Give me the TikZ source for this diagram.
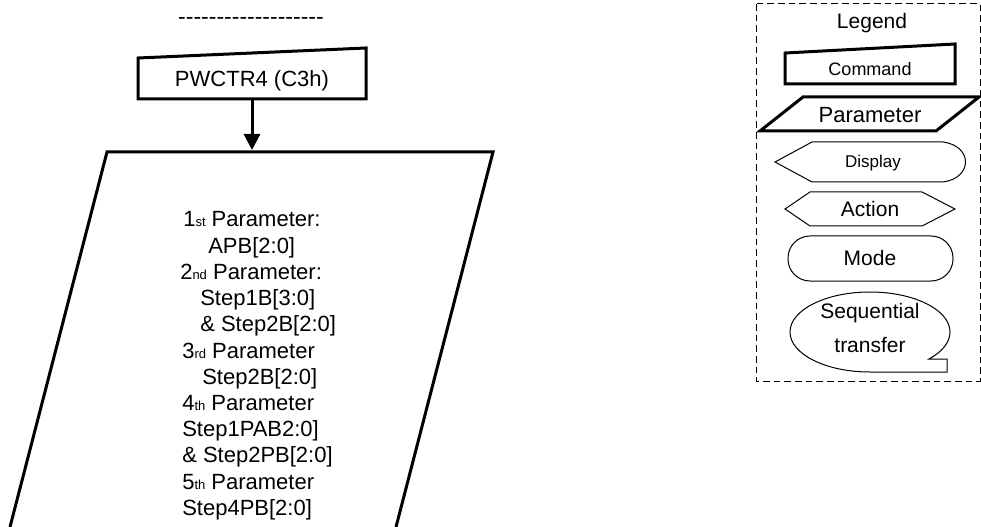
\documentclass[tikz,border=0pt]{standalone}
\usepackage{fontspec}
\setmainfont{Liberation Sans}
\usetikzlibrary{arrows.meta}
\newcommand{\pxsize}[1]{\fontsize{#1}{#1}\selectfont}
\newcommand{\ordsfx}[1]{{\fontsize{9.75pt}{9.75pt}\selectfont #1}}
\begin{document}
\begin{tikzpicture}[x=0.75pt,y=-0.75pt,
  heavy/.style={line width=2.25pt,line join=miter},
  light/.style={line width=0.75pt},
  lbl/.style={inner sep=0pt,anchor=base},
  ptxt/.style={inner sep=0pt,anchor=base west,font=\pxsize{16.5pt}}]
\useasboundingbox (0,0) rectangle (981,527);

% top dashes
\node[lbl,font=\pxsize{17.25pt}] (dashes) at (251,25) {-{}-{}-{}-{}-{}-{}-{}-{}-{}-{}-{}-{}-{}-{}-{}-{}-{}-{}-};

% command box
\draw[heavy] (138,58) -- (366,48) -- (366,99) -- (138,99) -- cycle;
\node[lbl,font=\pxsize{16.5pt}] (cmd) at (252,87) {PWCTR4 (C3h)};
\coordinate (cmdout) at (252,99);

% parameter shape
\draw[heavy] (10,527) -- (107,152) -- (493,152) -- (396,527);
\coordinate (parin) at (252,150);
\draw[heavy,-{Triangle[length=12pt,width=12pt]}] (cmdout) -- (parin);

% parameter text
\node[ptxt] (p1)  at (183,227.0) {1\ordsfx{st} Parameter:};
\node[ptxt] (p2)  at (208,253.2) {APB[2:0]};
\node[ptxt] (p3)  at (180,279.4) {2\ordsfx{nd} Parameter:};
\node[ptxt] (p4)  at (200,305.6) {Step1B[3:0]};
\node[ptxt] (p5)  at (200,331.8) {\& Step2B[2:0]};
\node[ptxt] (p6)  at (182,358.0) {3\ordsfx{rd} Parameter};
\node[ptxt] (p7)  at (202,384.2) {Step2B[2:0]};
\node[ptxt] (p8)  at (182,410.4) {4\ordsfx{th} Parameter};
\node[ptxt] (p9)  at (182,436.6) {Step1PAB2:0]};
\node[ptxt] (p10) at (182,462.8) {\& Step2PB[2:0]};
\node[ptxt] (p11) at (182,489.0) {5\ordsfx{th} Parameter};
\node[ptxt] (p12) at (182,515.2) {Step4PB[2:0]};

% legend
\draw[light,dash pattern=on 5pt off 3pt] (756,4) rectangle (980,381);
\node[lbl,font=\pxsize{15.75pt}] (legend) at (872,29) {Legend};

\draw[heavy] (785,53) -- (955,44) -- (955,84) -- (785,84) -- cycle;
\node[lbl,font=\pxsize{13.5pt}] (lcmd) at (870,76) {Command};

\draw[heavy] (803,97) -- (979,97) -- (936,131) -- (760,131) -- cycle;
\node[lbl,font=\pxsize{16.5pt}] (lpar) at (870,123) {Parameter};

\draw[light] (775,162) -- (812,142) -- (943,142) .. controls (973,146) and (973,178) .. (943,182) -- (812,182) -- cycle;
\node[lbl,font=\pxsize{12.75pt}] (ldisp) at (873,168) {Display};

\draw[light] (785,209) -- (810,192) -- (922,192) -- (955,209) -- (922,226) -- (810,226) -- cycle;
\node[lbl,font=\pxsize{15.75pt}] (lact) at (870,217) {Action};

\draw[light,rounded corners=16.5pt] (788,236) rectangle (953,281);
\node[lbl,font=\pxsize{15.75pt}] (lmode) at (870,266) {Mode};

\draw[light] (870,372) arc[start angle=90,end angle=402.5,x radius=80,y radius=40] -- (947,359) -- (947,372) -- cycle;
\node[lbl,font=\pxsize{15.75pt}] (lseq1) at (870,318) {Sequential};
\node[lbl,font=\pxsize{15.75pt}] (lseq2) at (870,352) {transfer};
\end{tikzpicture}
\end{document}
